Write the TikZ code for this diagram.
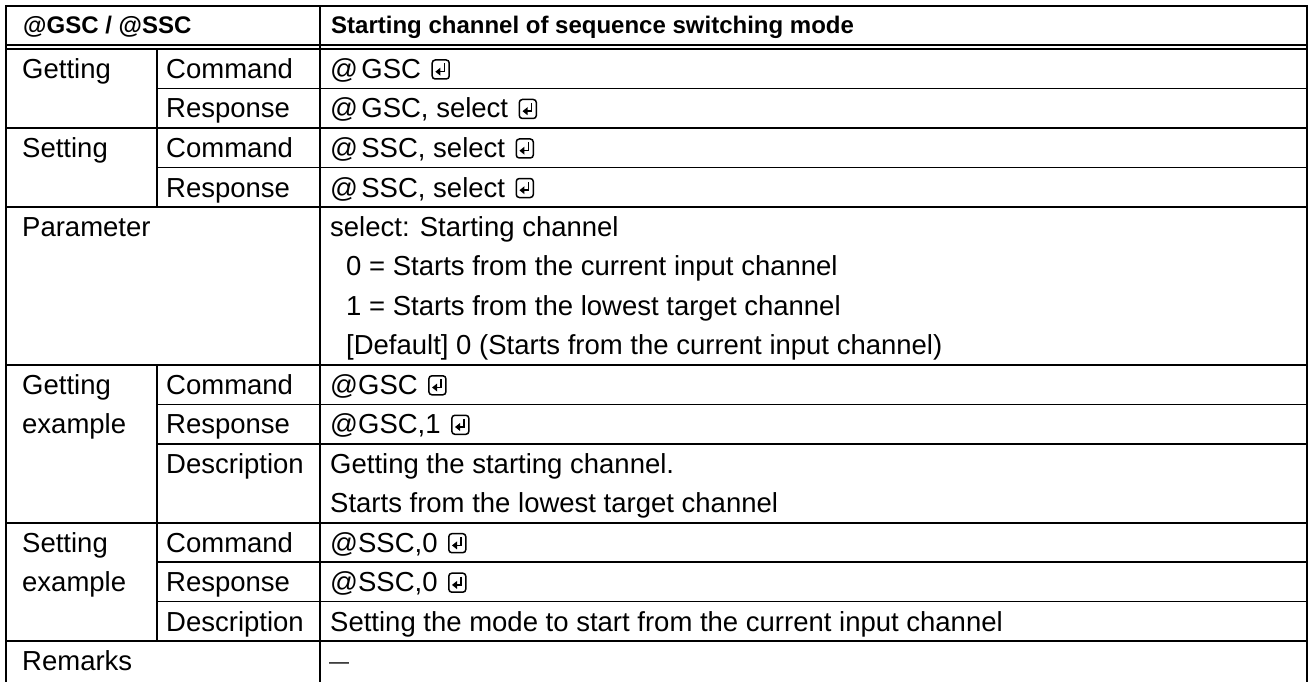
\documentclass[tikz,border=0pt]{standalone}
\usepackage{fontspec}
\setmainfont{Liberation Sans}
\begin{document}
\begin{tikzpicture}[x=1pt,y=-1pt,
  rule/.style={line width=1.6pt,line cap=rect},
  cell/.style={anchor=base west,inner sep=0pt,font=\fontsize{27.5}{32}\selectfont},
  head/.style={anchor=base west,inner sep=0pt,font=\fontsize{24}{28}\selectfont\bfseries},
  retkey/.pic={
    \draw[line width=1.5pt,rounded corners=3pt] (0,0.5) rectangle (17,-18.5);
    \draw[line width=1.6pt] (12.2,-15) -- (12.2,-6.8) -- (7.5,-6.8);
    \fill (3.2,-6.8) -- (8.2,-10.8) -- (8.2,-2.8) -- cycle;
  }]
\useasboundingbox (0,0) rectangle (1309,682);

% table rules: full-width horizontals
\foreach \yy in {6,45,49,128,206.9,364.8,522.7,641}
  \draw[rule] (6,\yy) -- (1307,\yy);
% horizontals inside the sub-column blocks
\foreach \yy in {88.5,167.4,404.3,443.7,562.1,601.6}
  \draw[rule] (157,\yy) -- (1307,\yy);
% verticals
\draw[rule] (6,6) -- (6,690);
\draw[rule] (1307,6) -- (1307,690);
\draw[rule] (320,6) -- (320,690);
\draw[rule] (157,49) -- (157,206.9);
\draw[rule] (157,364.8) -- (157,641);

% header
\node[head] (h1) at (23,34) {@GSC / @SSC};
\node[head] (h2) at (331,34) {Starting channel of sequence switching mode};

% getting / setting
\node[cell] (g1) at (22,78.5) {Getting};
\node[cell] (g2) at (166,78.5) {Command};
\node[cell] (g3) at (330,78.5) {@\hspace{0.12em}GSC};
\pic at ([xshift=11pt]g3.base east) {retkey};
\node[cell] (g4) at (166,118) {Response};
\node[cell] (g5) at (330,118) {@\hspace{0.12em}GSC, select};
\pic at ([xshift=11pt]g5.base east) {retkey};

\node[cell] (s1) at (22,157.5) {Setting};
\node[cell] (s2) at (166,157.5) {Command};
\node[cell] (s3) at (330,157.5) {@\hspace{0.12em}SSC, select};
\pic at ([xshift=11pt]s3.base east) {retkey};
\node[cell] (s4) at (166,197) {Response};
\node[cell] (s5) at (330,197) {@\hspace{0.12em}SSC, select};
\pic at ([xshift=11pt]s5.base east) {retkey};

% parameter
\node[cell] (p0) at (22,236.4) {Parameter};
\node[cell] (p1) at (330,236.4) {select: Starting channel};
\node[cell] (p2) at (346,275.9) {0 = Starts from the current input channel};
\node[cell] (p3) at (346,315.4) {1 = Starts from the lowest target channel};
\node[cell] (p4) at (346,354.8) {[Default] 0 (Starts from the current input channel)};

% getting example
\node[cell] (ge1) at (22,394.3) {Getting};
\node[cell] (ge2) at (22,433.8) {example};
\node[cell] (ge3) at (166,394.3) {Command};
\node[cell] (ge4) at (330,394.3) {@GSC};
\pic at ([xshift=11pt]ge4.base east) {retkey};
\node[cell] (ge5) at (166,433.8) {Response};
\node[cell] (ge6) at (330,433.8) {@GSC,1};
\pic at ([xshift=11pt]ge6.base east) {retkey};
\node[cell] (ge7) at (166,473.3) {Description};
\node[cell] (ge8) at (330,473.3) {Getting the starting channel.};
\node[cell] (ge9) at (330,512.7) {Starts from the lowest target channel};

% setting example
\node[cell] (se1) at (22,552.2) {Setting};
\node[cell] (se2) at (22,591.7) {example};
\node[cell] (se3) at (166,552.2) {Command};
\node[cell] (se4) at (330,552.2) {@SSC,0};
\pic at ([xshift=11pt]se4.base east) {retkey};
\node[cell] (se5) at (166,591.7) {Response};
\node[cell] (se6) at (330,591.7) {@SSC,0};
\pic at ([xshift=11pt]se6.base east) {retkey};
\node[cell] (se7) at (166,631.1) {Description};
\node[cell] (se8) at (330,631.1) {Setting the mode to start from the current input channel};

% remarks
\node[cell] (r1) at (22,670.6) {Remarks};
\node[cell,font=\fontsize{20}{24}\selectfont] (r2) at (329,668.6) {—};
\end{tikzpicture}
\end{document}
